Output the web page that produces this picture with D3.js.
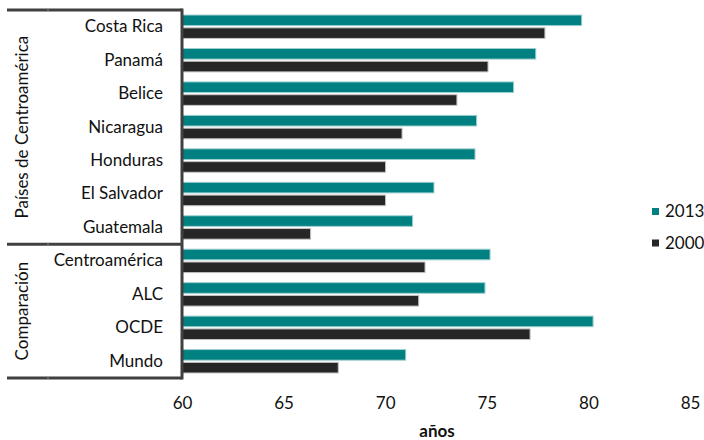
<!DOCTYPE html>
<html><head><meta charset="utf-8">
<script src="https://cdn.jsdelivr.net/npm/d3@7/dist/d3.min.js"></script>
<style>
body{margin:0;background:#fff;}
svg{display:block;font-family:Lato,"Noto Sans",sans-serif;}
</style></head>
<body><svg id="chart" width="704" height="440"></svg>
<script>
const categories = ["Costa Rica","Panamá","Belice","Nicaragua","Honduras","El Salvador","Guatemala","Centroamérica","ALC","OCDE","Mundo"];
const groups = [
  {name:"Países de Centroamérica", first:"Costa Rica", last:"Guatemala"},
  {name:"Comparación", first:"Centroamérica", last:"Mundo"}
];
const seriesNames = ["2013","2000"];
const values2013 = [79.67,77.41,76.32,74.50,74.42,72.40,71.35,75.16,74.91,80.23,71.01];
const values2000 = [77.86,75.06,73.53,70.83,70.02,70.02,66.33,71.96,71.65,77.13,67.69];
const xTicks = [60,65,70,75,80,85];
const xLabel = "años";
const colors = {"2013":"#008080","2000":"#262626"};
const strokes = {"2013":"#9fd0d0","2000":"#c4c4c4"};
const FS = 17;

const svg = d3.select("#chart");
const x = d3.scaleLinear().domain([60,85]).range([182,690]);
const y = d3.scaleBand().domain(categories).range([10,378]).paddingInner(0.3).paddingOuter(0.15);
const ySub = d3.scaleBand().domain(seriesNames).range([0,y.bandwidth()]).paddingInner(0.17);

const data = [];
categories.forEach((c,i)=>{
  data.push({cat:c, s:"2013", v:values2013[i]});
  data.push({cat:c, s:"2000", v:values2000[i]});
});

svg.append("g").selectAll("rect").data(data).join("rect")
  .attr("x", x(60))
  .attr("y", d=>y(d.cat)+ySub(d.s))
  .attr("width", d=>x(d.v)-x(60))
  .attr("height", ySub.bandwidth())
  .attr("fill", d=>colors[d.s])
  .attr("stroke", d=>strokes[d.s])
  .attr("stroke-width", 1);

// x axis labels
const xAxis = d3.axisBottom(x).tickValues(xTicks).tickSize(0).tickPadding(0);
const gx = svg.append("g").attr("transform","translate(0,397)").call(xAxis);
gx.select(".domain").remove();
gx.selectAll("text").attr("font-size",FS).attr("fill","#111").attr("font-family","Lato,'Noto Sans',sans-serif").attr("dy","0.71em");

svg.append("text").attr("x",437).attr("y",437).attr("text-anchor","middle")
  .attr("font-size",FS).attr("font-weight","bold").attr("fill","#111").text(xLabel);

// category labels
const yAxis = d3.axisLeft(y).tickSize(0).tickPadding(19);
const gy = svg.append("g").attr("transform",`translate(${x(60)},0)`).call(yAxis);
gy.select(".domain").remove();
gy.selectAll("text").attr("font-size",FS).attr("fill","#111").attr("font-family","Lato,'Noto Sans',sans-serif");

// group separators
const sepYs = [10, y(groups[1].first) - (y.step()-y.bandwidth())/2, 378];
svg.append("g").selectAll("line").data(sepYs).join("line")
  .attr("x1",7).attr("x2",x(60)).attr("y1",d=>d).attr("y2",d=>d)
  .attr("stroke","#404040").attr("stroke-width",3);
svg.append("g").selectAll("line").data(sepYs).join("line")
  .attr("x1",48).attr("x2",48).attr("y1",d=>d-1.5).attr("y2",d=>d+1.5)
  .attr("stroke","#8a8a8a").attr("stroke-width",1);

// vertical axis line
svg.append("line").attr("x1",x(60)).attr("x2",x(60)).attr("y1",8.5).attr("y2",379.5)
  .attr("stroke","#404040").attr("stroke-width",3);

// group labels
groups.forEach(g=>{
  const y0 = y(g.first) - (y.step()-y.bandwidth())/2;
  const y1 = y(g.last) + y.bandwidth() + (y.step()-y.bandwidth())/2;
  const cy = (y0+y1)/2;
  svg.append("text").attr("transform",`translate(22,${cy}) rotate(-90)`)
    .attr("text-anchor","middle").attr("dy","0.35em").attr("font-size",FS).attr("fill","#111").text(g.name);
});

// legend
const leg = svg.append("g");
seriesNames.forEach((s,i)=>{
  const cy = 211.5 + i*31.5;
  leg.append("rect").attr("x",652).attr("y",cy-3.5).attr("width",7).attr("height",7).attr("fill",colors[s]);
  leg.append("text").attr("x",665).attr("y",cy).attr("dy","0.35em").attr("font-size",FS).attr("fill","#111").text(s);
});
</script></body></html>
